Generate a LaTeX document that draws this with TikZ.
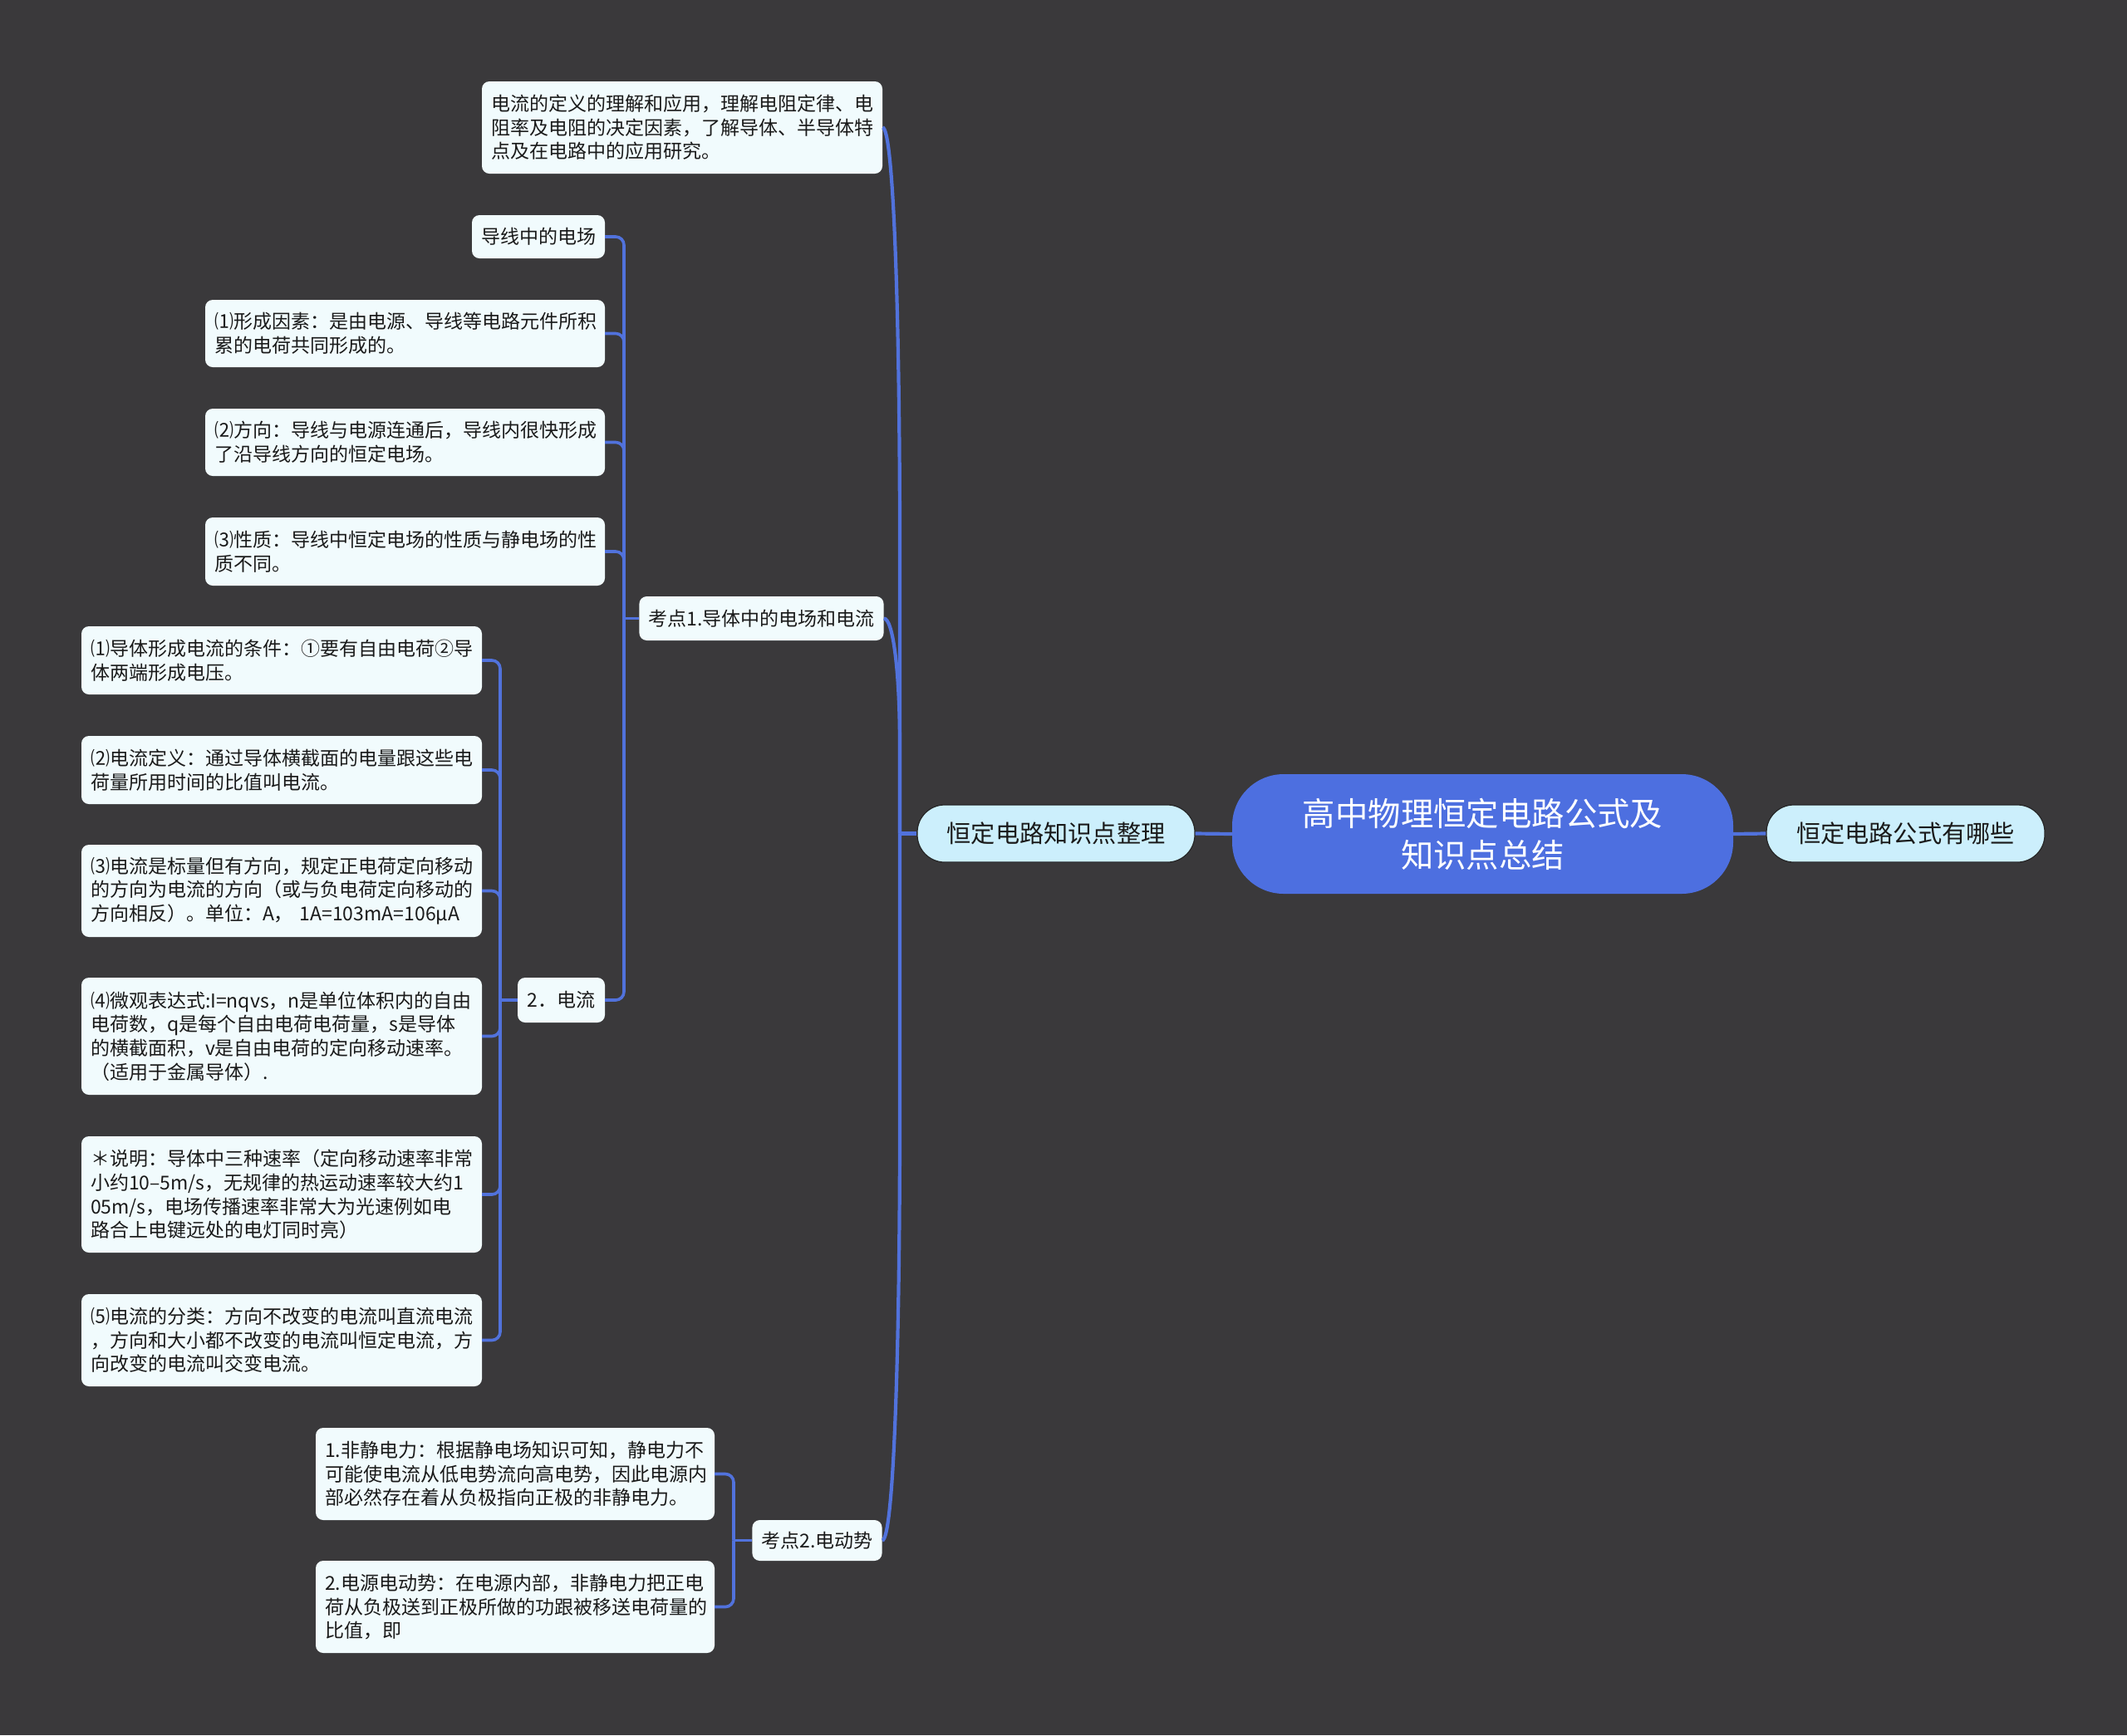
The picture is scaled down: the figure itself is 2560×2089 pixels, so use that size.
\documentclass[tikz,border=0pt]{standalone}
\usepackage{fontspec}
\setmainfont{Noto Sans CJK SC}
\usetikzlibrary{calc}
\definecolor{bg}{HTML}{3A393B}
\definecolor{leafc}{HTML}{F1FBFD}
\definecolor{mainc}{HTML}{CCEFFC}
\definecolor{rootc}{HTML}{4D6FE0}
\definecolor{conn}{HTML}{5172DC}
\definecolor{txt}{HTML}{1A1A1A}
\definecolor{edge}{HTML}{252525}
\begin{document}
\begin{tikzpicture}[x=1pt,y=-1pt,
  leaf/.style={fill=leafc, rounded corners=9pt, inner xsep=11pt, inner ysep=0pt, text=txt,
    font=\fontsize{23}{28.6}\selectfont, align=left},
  single/.style={leaf, align=center},
  mainbr/.style={fill=mainc, draw=edge, line width=1.2pt, rounded corners=33pt, inner sep=0pt,
    text=txt, font=\fontsize{29.2}{36}\selectfont, align=center, minimum height=69pt},
  rootnode/.style={fill=rootc, rounded corners=62pt, inner sep=0pt, text=white,
    font=\fontsize{39.4}{50}\selectfont, align=center, minimum width=603pt, minimum height=144pt},
  link/.style={draw=conn, line width=4.2pt},
  sub/.style={draw=conn, line width=3.6pt, rounded corners=10pt}]
\fill[bg] (0,0) rectangle (2560,2089);
\useasboundingbox (0,0) rectangle (2560,2089);

% central nodes
\node[rootnode] (root) at (1784.5,1004) {高中物理恒定电路公式及\\知识点总结};
\node[mainbr, minimum width=334pt] (m1) at (1271,1003.5) {恒定电路知识点整理};
\node[mainbr, minimum width=335pt] (m2) at (2293.5,1003.5) {恒定电路公式有哪些};

% first-level children of m1
\node[leaf, text width=460pt, minimum height=111pt] (a) at (821,153.5)
  {电流的定义的理解和应用，理解电阻定律、电\\阻率及电阻的决定因素，了解导体、半导体特\\点及在电路中的应用研究。};
\node[single, minimum width=291pt, minimum height=53pt] (k1) at (916.5,744.5) {考点1.导体中的电场和电流};
\node[single, minimum width=155pt, minimum height=49pt] (k2) at (983.5,1854.5) {考点2.电动势};

% children of k1
\node[single, minimum width=160pt, minimum height=52pt] (dx) at (648,285) {导线中的电场};
\node[leaf, text width=459pt, minimum height=81pt] (x1) at (487.5,401.5)
  {⑴形成因素：是由电源、导线等电路元件所积\\累的电荷共同形成的。};
\node[leaf, text width=459pt, minimum height=81pt] (x2) at (487.5,532.5)
  {⑵方向：导线与电源连通后，导线内很快形成\\了沿导线方向的恒定电场。};
\node[leaf, text width=459pt, minimum height=82pt] (x3) at (487.5,664)
  {⑶性质：导线中恒定电场的性质与静电场的性\\质不同。};
\node[single, minimum width=105pt, minimum height=54pt] (dl) at (675.5,1204) {2．电流};

% children of dl
\node[leaf, text width=460pt, minimum height=82pt] (c1) at (339,795)
  {⑴导体形成电流的条件：①要有自由电荷②导\\体两端形成电压。};
\node[leaf, text width=460pt, minimum height=82pt] (c2) at (339,927)
  {⑵电流定义：通过导体横截面的电量跟这些电\\荷量所用时间的比值叫电流。};
\node[leaf, text width=460pt, minimum height=111pt] (c3) at (339,1072.5)
  {⑶电流是标量但有方向，规定正电荷定向移动\\的方向为电流的方向（或与负电荷定向移动的\\方向相反）。单位：A，~1A=103mA=106μA};
\node[leaf, text width=460pt, minimum height=141pt] (c4) at (339,1247.5)
  {⑷微观表达式:I=nqvs，n是单位体积内的自由\\电荷数，q是每个自由电荷电荷量，s是导体\\的横截面积，v是自由电荷的定向移动速率。\\（适用于金属导体）.};
\node[leaf, text width=460pt, minimum height=140pt] (c5) at (339,1438)
  {＊说明：导体中三种速率（定向移动速率非常\\小约10–5m/s，无规律的热运动速率较大约1\\05m/s，电场传播速率非常大为光速例如电\\路合上电键远处的电灯同时亮）};
\node[leaf, text width=460pt, minimum height=111pt] (c6) at (339,1613.5)
  {⑸电流的分类：方向不改变的电流叫直流电流\\，方向和大小都不改变的电流叫恒定电流，方\\向改变的电流叫交变电流。};

% children of k2
\node[leaf, text width=458pt, minimum height=111pt] (f1) at (620,1774.5)
  {1.非静电力：根据静电场知识可知，静电力不\\可能使电流从低电势流向高电势，因此电源内\\部必然存在着从负极指向正极的非静电力。};
\node[leaf, text width=458pt, minimum height=111pt] (f2) at (620,1934.5)
  {2.电源电动势：在电源内部，非静电力把正电\\荷从负极送到正极所做的功跟被移送电荷量的\\比值，即};

% main connectors
\draw[link] (root.west) -- (m1.east);
\draw[link] (root.east) -- (m2.west);
\coordinate (J) at (1083,1003.5);
\draw[link] (m1.west) -- (J);
\draw[link] (J) -- (1083,663) .. controls (1083,366) and (1075,153.5) .. (a.east);
\draw[link] (J) -- (1083,900) .. controls (1083,809) and (1075,744.5) .. (k1.east);
\draw[link] (J) -- (1083,1344) .. controls (1083,1642) and (1075,1854.5) .. (k2.east);

% k1 branch
\coordinate (j1) at (751,744.5);
\draw[sub] (k1.west) -- (j1);
\foreach \c in {dx,x1,x2,x3,dl} \draw[sub] (j1) |- (\c.east);

% dl branch
\coordinate (j2) at (602,1204);
\draw[sub] (dl.west) -- (j2);
\foreach \c in {c1,c2,c3,c4,c5,c6} \draw[sub] (j2) |- (\c.east);

% k2 branch
\coordinate (j3) at (883,1854.5);
\draw[sub] (k2.west) -- (j3);
\foreach \c in {f1,f2} \draw[sub] (j3) |- (\c.east);
\end{tikzpicture}
\end{document}
